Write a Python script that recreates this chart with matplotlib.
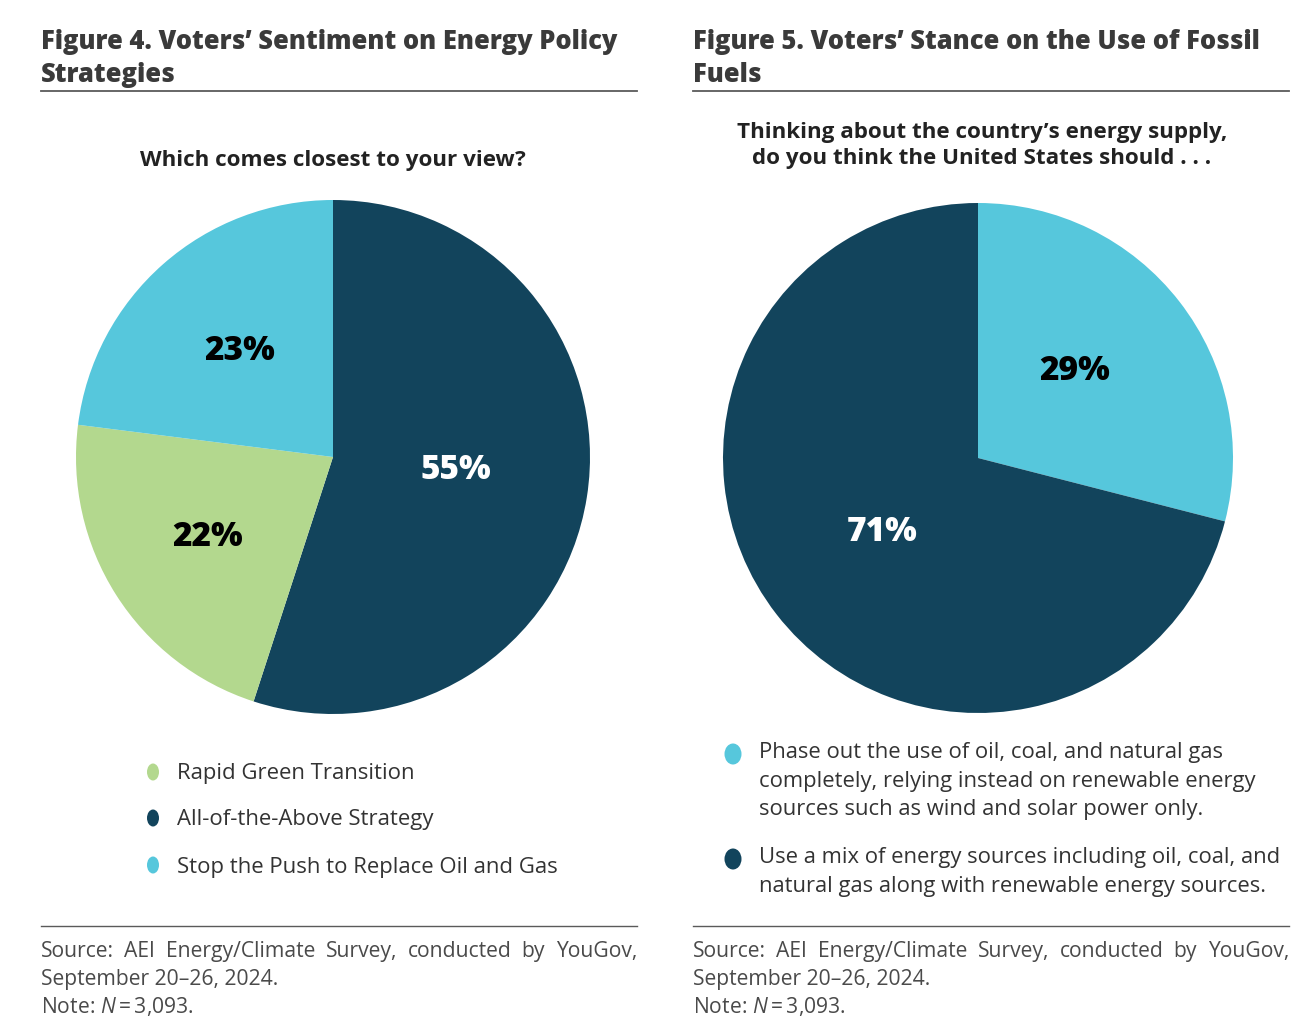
import numpy as np
import matplotlib.pyplot as plt
from matplotlib.patches import Ellipse

W, H = 1316, 1028

# Data
fig4_labels = ["All-of-the-Above Strategy", "Rapid Green Transition",
               "Stop the Push to Replace Oil and Gas"]
fig4_values = [55, 22, 23]
fig4_legend_order = [1, 0, 2]

fig5_labels = ["Phase out the use of oil, coal, and natural gas\ncompletely, relying instead on renewable energy\nsources such as wind and solar power only.",
               "Use a mix of energy sources including oil, coal, and\nnatural gas along with renewable energy sources."]
fig5_values = [29, 71]

source_line = "Source: AEI Energy/Climate Survey, conducted by YouGov,"

DARK = "#12445C"
CYAN = "#56C7DC"
GREEN = "#B3D88E"
TXT = "#333333"
RULE = "#5a5a5a"

fig4_colors = [DARK, GREEN, CYAN]
fig4_pct_colors = ["white", "black", "black"]
fig4_pct_dist = [0.48, 0.58, 0.55]
fig4_pct_turn = [3, 0, 0]   # degrees, label placement tweak

fig5_colors = [CYAN, DARK]
fig5_pct_colors = ["black", "white"]
fig5_pct_dist = [0.51, 0.475]
fig5_pct_turn = [4, 0]

plt.rcParams['font.family'] = ['Open Sans', 'DejaVu Sans']
plt.rcParams['mathtext.fontset'] = 'custom'
plt.rcParams['mathtext.it'] = 'Open Sans:italic'
plt.rcParams['mathtext.rm'] = 'Open Sans'

fig = plt.figure(figsize=(W / 100, H / 100), dpi=100)

# overlay axis in pixel coords for text/rules
ov = fig.add_axes([0, 0, 1, 1])
ov.set_xlim(0, W)
ov.set_ylim(H, 0)
ov.axis("off")


def pie_axes(cx, cy, r):
    return fig.add_axes([(cx - r) / W, 1 - (cy + r) / H, 2 * r / W, 2 * r / H])


def draw_pie(ax, values, colors, pct_colors, pct_dist, pct_turn):
    wedges, texts, autotexts = ax.pie(values, colors=colors, startangle=90,
                                      counterclock=False, autopct="%d%%",
                                      pctdistance=0.5,
                                      wedgeprops=dict(linewidth=0))
    for w, t, c, d, tw in zip(wedges, autotexts, pct_colors, pct_dist, pct_turn):
        ang = np.deg2rad((w.theta1 + w.theta2) / 2 + tw)
        t.set_position((d * np.cos(ang), d * np.sin(ang)))
        t.set_color(c)
        t.set_fontsize(24)
        t.set_fontweight("heavy")
    ax.set_xlim(-1, 1)
    ax.set_ylim(-1, 1)
    ax.set_aspect("equal")


ax1 = pie_axes(333, 457, 257)
draw_pie(ax1, fig4_values, fig4_colors, fig4_pct_colors, fig4_pct_dist, fig4_pct_turn)
ax2 = pie_axes(978, 458, 255)
draw_pie(ax2, fig5_values, fig5_colors, fig5_pct_colors, fig5_pct_dist, fig5_pct_turn)

# titles (baseline = last line)
title_kw = dict(fontsize=18.4, fontweight="heavy", color="#3a3a3a", va="baseline",
                linespacing=1.35)
ov.text(41, 82, "Figure 4. Voters\u2019 Sentiment on Energy Policy\nStrategies", **title_kw)
ov.text(693, 82, "Figure 5. Voters\u2019 Stance on the Use of Fossil\nFuels", **title_kw)
for x0, x1 in [(41, 637), (693, 1289)]:
    ov.plot([x0, x1], [91, 91], color=RULE, lw=1.3)
    ov.plot([x0, x1], [926, 926], color=RULE, lw=1.0)

sub_kw = dict(fontsize=16.1, fontweight="bold", color="#222222", ha="center",
              va="baseline")
ov.text(333, 166, "Which comes closest to your view?", **sub_kw)
ov.text(982, 164, "Thinking about the country\u2019s energy supply,\ndo you think the United States should . . .",
        linespacing=1.3, **sub_kw)

# legends
leg_kw = dict(fontsize=15.9, color=TXT, va="center")
for i, yy in zip(fig4_legend_order, [772, 818, 865]):
    ov.add_patch(Ellipse((153, yy), 12, 17, color=fig4_colors[i], lw=0))
    ov.text(177, yy + 2, fig4_labels[i], **leg_kw)

for i, yy in zip(range(2), [754, 859]):
    ov.add_patch(Ellipse((733, yy), 17, 21, color=fig5_colors[i], lw=0))
    ov.text(759, yy - 12, fig5_labels[i], fontsize=15.8, color=TXT, va="top",
            linespacing=1.48)

# source notes
src_kw = dict(fontsize=15.2, color="#4a4a4a", va="baseline")
renderer = fig.canvas.get_renderer()
for x0, x1 in [(41, 637), (693, 1289)]:
    # justified first line
    words = source_line.split(" ")
    arts = [ov.text(x0, 957, w, **src_kw) for w in words]
    widths = [a.get_window_extent(renderer).width for a in arts]
    gap = (x1 - x0 - sum(widths)) / (len(words) - 1)
    x = x0
    for a, w in zip(arts, widths):
        a.set_x(x)
        x += w + gap
    ov.text(x0, 985, "September 20\u201326, 2024.", **src_kw)
    ov.text(x0, 1013, "Note: $\\it{N}$\u2009=\u20093,093.", **src_kw)

fig.savefig("out.png", dpi=100)
